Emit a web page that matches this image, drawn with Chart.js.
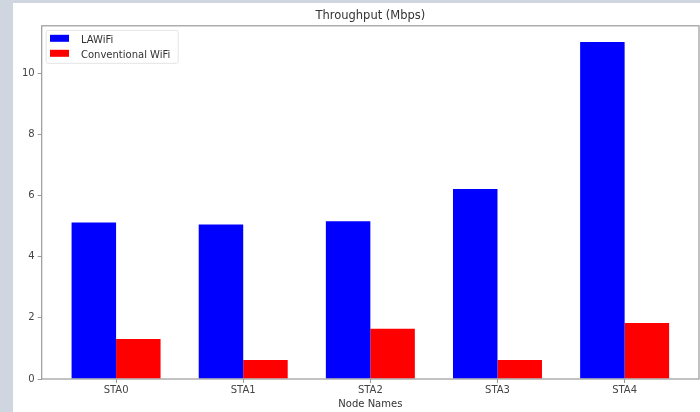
<!DOCTYPE html>
<html>
<head>
<meta charset="utf-8">
<script src="https://cdn.jsdelivr.net/npm/chart.js@4.4.1/dist/chart.umd.min.js"></script>
<style>
    html, body { margin: 0; padding: 0; background: #cfd6e0; }
    #wrap { position: absolute; left: 13px; top: 3px; width: 687px; height: 409px; background: #fff; }
</style>
</head>
<body>
<div id="wrap"><canvas id="myChart" width="687" height="409"></canvas></div>
<script>
const nodeNames = ['STA0', 'STA1', 'STA2', 'STA3', 'STA4'];
const lawifi = [5.12, 5.05, 5.16, 6.21, 11.02];
const conventional = [1.31, 0.62, 1.64, 0.62, 1.83];
const yTicks = [0, 2, 4, 6, 8, 10];

Chart.defaults.font.family = "'DejaVu Sans', sans-serif";
Chart.defaults.color = '#444';

// matplotlib style box round the axes + legend in the top left corner
const frameAndLegend = {
    id: 'frameAndLegend',
    afterDraw(chart) {
        const ctx = chart.ctx;
        const a = chart.chartArea;
        ctx.save();
        ctx.strokeStyle = '#999';
        ctx.lineWidth = 1.2;
        ctx.strokeRect(a.left, a.top, a.right - a.left, a.bottom - a.top);

        // legend frame
        ctx.strokeStyle = '#e4e4e4';
        ctx.lineWidth = 1;
        ctx.beginPath();
        ctx.roundRect(a.left + 4.5, a.top + 4.5, 132, 33, 2);
        ctx.stroke();

        ctx.font = "10px 'DejaVu Sans'";
        ctx.textBaseline = 'middle';
        chart.data.datasets.forEach((ds, i) => {
            ctx.fillStyle = ds.backgroundColor;
            ctx.fillRect(a.left + 8.3, a.top + 9 + i * 15, 19, 7);
            ctx.fillStyle = '#333';
            ctx.fillText(ds.label, a.left + 39.3, a.top + 15 + i * 15);
        });
        ctx.restore();
    }
};

const ctx = document.getElementById('myChart').getContext('2d');
const myChart = new Chart(ctx, {
    type: 'bar',
    data: {
        datasets: [
            {
                label: 'LAWiFi',
                data: lawifi.map((v, i) => ({ x: i, y: v })),
                backgroundColor: '#0000ff',
                categoryPercentage: 0.7,
                barPercentage: 1.0
            },
            {
                label: 'Conventional WiFi',
                data: conventional.map((v, i) => ({ x: i, y: v })),
                backgroundColor: '#ff0000',
                categoryPercentage: 0.7,
                barPercentage: 1.0
            }
        ]
    },
    options: {
        responsive: false,
        animation: false,
        layout: { padding: { left: 0, right: 1, top: 0, bottom: 0 } },
        plugins: {
            legend: { display: false },
            tooltip: { enabled: false },
            title: {
                display: true,
                text: 'Throughput (Mbps)',
                fullSize: false,
                color: '#333',
                font: { size: 11.5, weight: 'normal' },
                padding: { top: 6, bottom: 3 }
            }
        },
        scales: {
            x: {
                type: 'linear',
                min: -0.585,
                max: 4.585,
                offset: false,
                border: { display: false },
                grid: { offset: false, drawOnChartArea: false, drawTicks: true, tickLength: 4, color: '#999' },
                afterBuildTicks: s => { s.ticks = nodeNames.map((n, i) => ({ value: i })); },
                afterFit: s => { s.height = 33; },
                ticks: {
                    padding: 1,
                    maxRotation: 0,
                    font: { size: 10 },
                    callback: v => nodeNames[v]
                },
                title: {
                    display: true,
                    text: 'Node Names',
                    color: '#333',
                    font: { size: 10 },
                    padding: { top: 0, bottom: 2 }
                }
            },
            y: {
                min: 0,
                max: 11.55,
                border: { display: false },
                grid: { drawOnChartArea: false, drawTicks: true, tickLength: 4, color: '#999' },
                afterBuildTicks: s => { s.ticks = yTicks.map(v => ({ value: v })); },
                afterFit: s => { s.width = 28.7; },
                ticks: { padding: 3, font: { size: 10 } }
            }
        }
    },
    plugins: [frameAndLegend]
});
</script>
</body>
</html>
